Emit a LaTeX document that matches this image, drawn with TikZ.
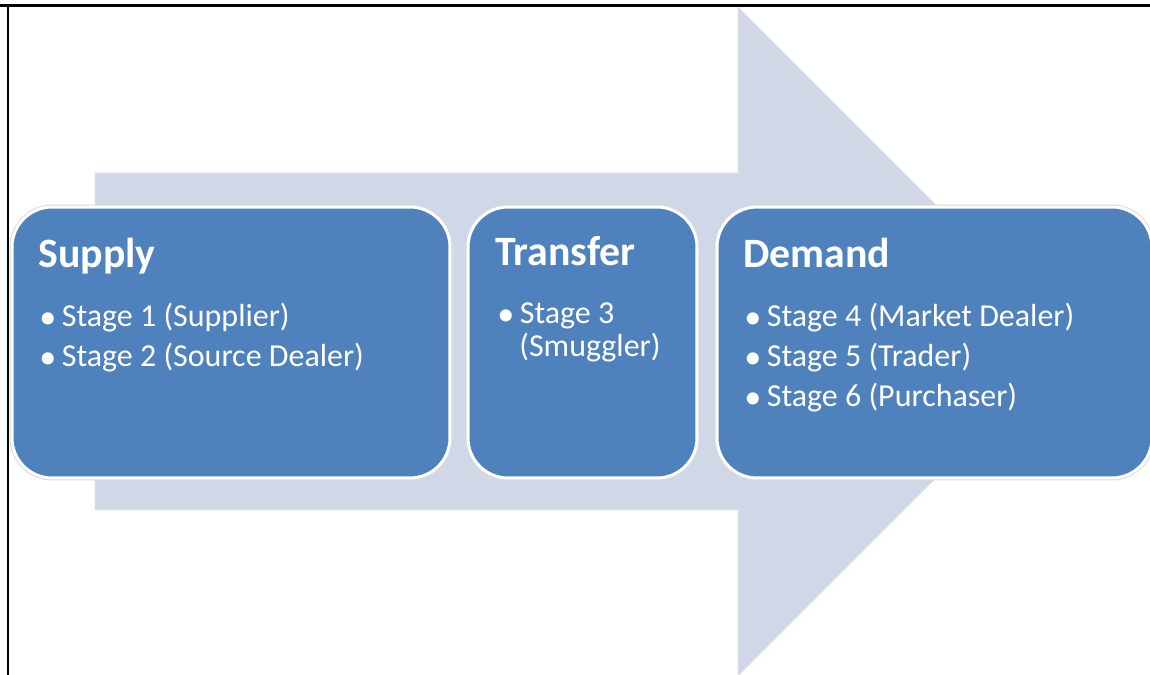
\documentclass[tikz,border=0pt]{standalone}
\usepackage{fontspec}
\setmainfont{Carlito}
\definecolor{stageblue}{HTML}{4F81BD}
\definecolor{flowgrey}{HTML}{D0D8E8}
\newcommand{\stagedot}{\makebox[0.45cm][l]{\raisebox{-0.6pt}{\fontsize{19.5}{20}\selectfont\textbullet}}}
\tikzset{
  stagebox/.style={rounded corners=0.8cm, fill=stageblue, draw=white, line width=1.7pt,
    preaction={draw=black!15, line width=2.8pt}},
  stagehead/.style={anchor=base west, inner sep=0pt, text=white,
    font=\fontsize{23.8}{28}\selectfont\bfseries},
  stageitem/.style={anchor=base west, inner sep=0pt, text=white,
    font=\fontsize{18.2}{22}\selectfont},
}
\begin{document}
\begin{tikzpicture}[x=0.02cm, y=-0.02cm]
      \clip (0,0) rectangle (1150,675);
      % big flow arrow behind the stages
      \fill[flowgrey, draw=black!10, line width=0.4pt]
        (95,173) -- (738,173) -- (738,7) -- (1072.5,341.5)
        -- (738,676) -- (738,510) -- (95,510) -- cycle;
      % frame lines
      \draw[line width=1.2pt] (0,5.5) -- (1150,5.5) (8,5.5) -- (8,675);
      % stage boxes
      \node[stagebox, minimum width=8.76cm, minimum height=5.42cm] (supply) at (231,342.5) {};
      \node[stagebox, minimum width=4.58cm, minimum height=5.42cm] (transfer) at (582.5,342.5) {};
      \node[stagebox, minimum width=8.7cm, minimum height=5.42cm] (demand) at (934.5,342.5) {};
      % texts
      \draw
        (38,268) node[stagehead] (supplyhead){Supply}
        (39,327) node[stageitem] (stage1){\stagedot Stage 1 (Supplier)}
        (39,367) node[stageitem] (stage2){\stagedot Stage 2 (Source Dealer)}
        (495,266) node[stagehead] (transferhead){Transfer}
        (497,324) node[stageitem] (stage3){\stagedot Stage 3}
        (519,357) node[stageitem] (stage3b){(Smuggler)}
        (743,268) node[stagehead] (demandhead){Demand}
        (744,327) node[stageitem] (stage4){\stagedot Stage 4 (Market Dealer)}
        (744,367) node[stageitem] (stage5){\stagedot Stage 5 (Trader)}
        (744,407) node[stageitem] (stage6){\stagedot Stage 6 (Purchaser)};
    \end{tikzpicture}
\end{document}
